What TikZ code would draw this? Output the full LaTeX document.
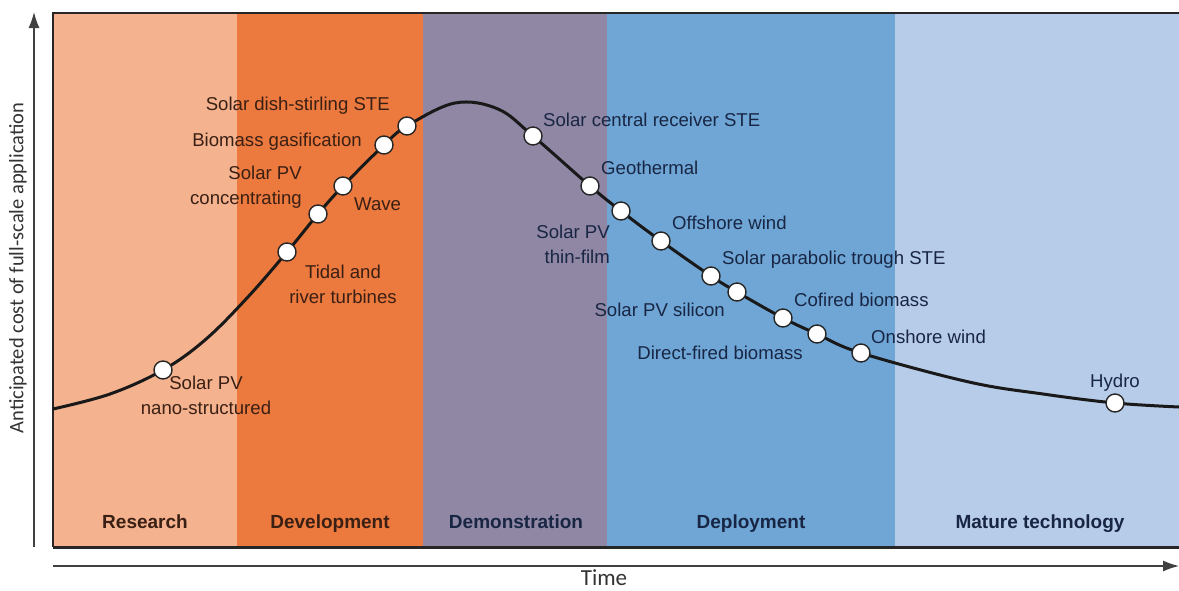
\documentclass[tikz,border=0pt]{standalone}
\usepackage{fontspec}
\setmainfont{Liberation Sans}
\newfontfamily\axisfont{Carlito}
\usetikzlibrary{arrows.meta}

\definecolor{research}{RGB}{244,178,143}
\definecolor{development}{RGB}{236,121,62}
\definecolor{demonstration}{RGB}{143,135,164}
\definecolor{deployment}{RGB}{111,166,213}
\definecolor{mature}{RGB}{183,204,232}
\definecolor{warmtext}{RGB}{58,32,20}
\definecolor{cooltext}{RGB}{24,38,68}

\begin{document}
\begin{tikzpicture}[x=1pt, y=-1pt,
	stage/.style={font=\bfseries\fontsize{19}{22}\selectfont, text=#1, inner sep=0pt, anchor=base},
	tech/.style={font=\fontsize{18.6}{25}\selectfont, text=#1, inner sep=0pt},
	dot/.style={circle, draw=black!85, line width=1.4pt, fill=white, minimum size=18pt, inner sep=0pt}]
	\useasboundingbox (0,0) rectangle (1179,590);
	\foreach \l/\r/\c in {53/237/research, 237/423/development, 423/607/demonstration, 607/895/deployment, 895/1179/mature}{
		\fill[\c] (\l,13) rectangle (\r,547);
	}
	\draw[line width=2pt, black!85] (1179,13) -- (53,13) -- (53,547);
	\draw[line width=3pt, black!85] (53,547) -- (1179,547);
	\coordinate (yfoot) at (34,547);
	\coordinate (ytip) at (34,12);
	\coordinate (xfoot) at (53,566);
	\coordinate (xtip) at (1179,566);
	\draw[-{Latex[length=16pt,width=11pt]}, line width=1.3pt, black!75] (yfoot) -- (ytip);
	\draw[-{Latex[length=16pt,width=11pt]}, line width=1.3pt, black!75] (xfoot) -- (xtip);
	\node[font=\axisfont\fontsize{23}{26}\selectfont, text=black!80, inner sep=0pt] (time) at (604,578) {Time};
	\node[rotate=90, font=\axisfont\fontsize{20.5}{24}\selectfont, text=black!80] (cost) at (18,268) {Anticipated cost of full-scale application};
	\node[stage=warmtext] (research) at (145,528) {Research};
	\node[stage=warmtext] (development) at (330,528) {Development};
	\node[stage=cooltext] (demonstration) at (516,528) {Demonstration};
	\node[stage=cooltext] (deployment) at (751,528) {Deployment};
	\node[stage=cooltext] (mature) at (1040,528) {Mature technology};
	\coordinate (s0) at (53,409);
	\coordinate (s1) at (110,394);
	\coordinate (nano) at (163,370);
	\coordinate (s2) at (205,340);
	\coordinate (s3) at (247,298);
	\coordinate (tidal) at (287,252);
	\coordinate (conc) at (318,214);
	\coordinate (wave) at (343,186);
	\coordinate (biom) at (384,145);
	\coordinate (dish) at (407,126);
	\coordinate (peak) at (455,103);
	\coordinate (s4) at (498,109);
	\coordinate (central) at (533,136);
	\coordinate (geo) at (590,186);
	\coordinate (thin) at (621,211);
	\coordinate (off) at (661,241);
	\coordinate (parab) at (711,276);
	\coordinate (silicon) at (737,292);
	\coordinate (cofired) at (783,318);
	\coordinate (direct) at (817,334);
	\coordinate (onshore) at (861,353);
	\coordinate (s5) at (969,382);
	\coordinate (s6) at (1043,394);
	\coordinate (hydro) at (1115,403);
	\coordinate (s7) at (1179,407);
	\draw[line width=3pt, black!90] plot[smooth, tension=0.6] coordinates {(s0) (s1) (nano) (s2) (s3) (tidal) (conc) (wave) (biom) (dish) (peak) (s4) (central) (geo) (thin) (off) (parab) (silicon) (cofired) (direct) (onshore) (s5) (s6) (hydro) (s7)};
	\foreach \p in {nano,tidal,conc,wave,biom,dish,central,geo,thin,off,parab,silicon,cofired,direct,onshore,hydro}{
		\node[dot] (\p dot) at (\p) {};
	}
	\node[tech=warmtext, align=center] (nanotext) at (206,395) {Solar PV\\nano-structured};
	\node[tech=warmtext, align=center] (tidaltext) at (343,284) {Tidal and\\river turbines};
	\node[tech=warmtext, anchor=west] (wavetext) at (354,204) {Wave};
	\node[tech=warmtext, align=right, anchor=east] (conctext) at (302,187) {Solar PV\\concentrating};
	\node[tech=warmtext, anchor=east] (biomtext) at (362,142) {Biomass gasification};
	\node[tech=warmtext, anchor=east] (dishtext) at (390,106) {Solar dish-stirling STE};
	\node[tech=cooltext, anchor=west] (centraltext) at (543,120) {Solar central receiver STE};
	\node[tech=cooltext, anchor=west] (geotext) at (601,168) {Geothermal};
	\node[tech=cooltext, align=right, anchor=east] (thintext) at (610,244) {Solar PV\\thin-film};
	\node[tech=cooltext, anchor=west] (offtext) at (672,223) {Offshore wind};
	\node[tech=cooltext, anchor=west] (parabtext) at (722,260) {Solar parabolic trough STE};
	\node[tech=cooltext, anchor=east] (silicontext) at (725,310) {Solar PV silicon};
	\node[tech=cooltext, anchor=west] (cofiredtext) at (794,300) {Cofired biomass};
	\node[tech=cooltext, anchor=east] (directtext) at (803,353) {Direct-fired biomass};
	\node[tech=cooltext, anchor=west] (onshoretext) at (871,337) {Onshore wind};
	\node[tech=cooltext] (hydrotext) at (1115,383) {Hydro};
\end{tikzpicture}
\end{document}
